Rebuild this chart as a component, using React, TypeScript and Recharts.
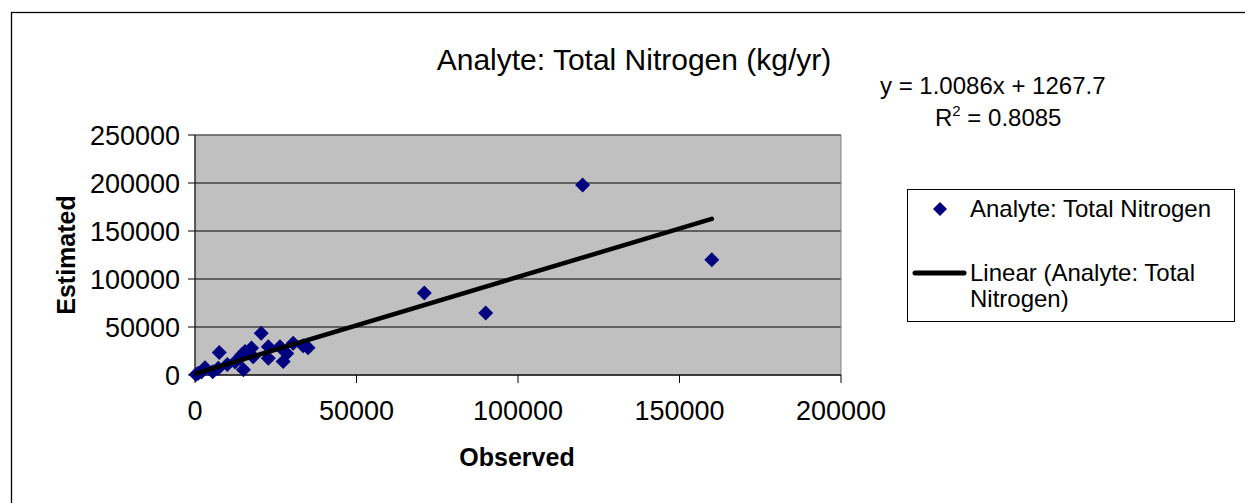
import React from 'react';
import { ScatterChart, Scatter, XAxis, YAxis, CartesianGrid, Legend, Label, ReferenceArea } from 'recharts';

const observed = [300, 1000, 2000, 3100, 5500, 7200, 7500, 10000, 12400, 13900, 14500, 15000, 15500, 17500, 18000, 20500, 22700, 22700, 26300, 27300, 28400, 30400, 33500, 35000, 71000, 90000, 120000, 160000];
const estimated = [500, 1800, 3000, 7500, 3500, 7000, 23500, 11000, 13500, 17500, 21000, 5500, 24500, 28000, 19000, 43500, 29500, 17500, 29500, 14000, 22500, 33000, 30500, 28500, 85500, 64500, 198000, 120000];
const xTicks = [0, 50000, 100000, 150000, 200000];
const yTicks = [0, 50000, 100000, 150000, 200000, 250000];
const slope = 1.0086;
const intercept = 1267.7;
const rSquared = '0.8085';
const chartTitle = 'Analyte: Total Nitrogen (kg/yr)';
const seriesName = 'Analyte: Total Nitrogen';
const trendLines = ['Linear (Analyte: Total', 'Nitrogen)'];
const xTitle = 'Observed';
const yTitle = 'Estimated';

const points = observed.map((x, i) => ({ x, y: estimated[i] }));
const xMin = Math.min(...observed);
const xMax = Math.max(...observed);
const trend = [xMin, xMax].map((x) => ({ x, y: slope * x + intercept }));

const FONT = '"Liberation Sans", Arial, sans-serif';

const Diamond = (props: any) => {
  const { cx, cy } = props;
  if (cx == null || cy == null) return <g />;
  const r = 7.5;
  return <path d={`M${cx},${cy - r}L${cx + r},${cy}L${cx},${cy + r}L${cx - r},${cy}Z`} fill="#000080" />;
};

const NoShape = () => <g />;

const LegendBox = () => (
  <svg width={329} height={134} style={{ display: 'block' }}>
    <rect x={0.5} y={0.5} width={327} height={132} fill="#fff" stroke="#000" strokeWidth={1} />
    <path d="M33,13L40,20L33,27L26,20Z" fill="#000080" />
    <text x={63} y={28} fontSize={24} fontFamily={FONT} fill="#000">{seriesName}</text>
    <line x1={8} y1={84} x2={57} y2={84} stroke="#000" strokeWidth={5} strokeLinecap="round" />
    <text x={63} y={92} fontSize={24} fontFamily={FONT} fill="#000">{trendLines[0]}</text>
    <text x={63} y={118} fontSize={24} fontFamily={FONT} fill="#000">{trendLines[1]}</text>
  </svg>
);

export default function App() {
  return (
    <div style={{ position: 'absolute', left: 0, top: 0, width: 1245, height: 503, overflow: 'hidden', background: '#fff' }}>
      <svg width={1245} height={503} style={{ position: 'absolute', left: 0, top: 0 }}>
        <rect x={11.5} y={12.5} width={1400} height={700} fill="none" stroke="#000" strokeWidth={1.3} />
        <text x={634} y={70} textAnchor="middle" fontSize={30} fontFamily={FONT} fill="#000">{chartTitle}</text>
        <text x={880} y={94} fontSize={24} fontFamily={FONT} fill="#000">{`y = ${slope}x + ${intercept}`}</text>
        <text x={935} y={126} fontSize={24} fontFamily={FONT} fill="#000">
          R<tspan dy={-10} fontSize={15}>2</tspan>
          <tspan dy={10} fontSize={24}>{` = ${rSquared}`}</tspan>
        </text>
      </svg>
      <div style={{ position: 'absolute', left: 0, top: 0 }}>
        <ScatterChart width={1245} height={503} margin={{ top: 135, right: 404, bottom: 0, left: 0 }}>
          <CartesianGrid fill="#C0C0C0" fillOpacity={1} stroke="#000" vertical={false} horizontal={true} />
          <ReferenceArea x1={0} x2={200000} y1={0} y2={250000} fill="none" stroke="#808080" strokeWidth={1} ifOverflow="visible" />
          <XAxis
            type="number"
            dataKey="x"
            domain={[0, 200000]}
            ticks={xTicks}
            height={128}
            tickSize={8}
            tickMargin={18}
            axisLine={{ stroke: '#000' }}
            tickLine={{ stroke: '#000' }}
            tick={{ fill: '#000', fontSize: 27, fontFamily: FONT }}
            interval={0}
          >
            <Label
              content={() => (
                <text x={517} y={466} textAnchor="middle" fontSize={25} fontWeight="bold" fontFamily={FONT} fill="#000">{xTitle}</text>
              )}
            />
          </XAxis>
          <YAxis
            type="number"
            dataKey="y"
            domain={[0, 250000]}
            ticks={yTicks}
            width={195}
            tickSize={7}
            tickMargin={8}
            axisLine={{ stroke: '#000' }}
            tickLine={{ stroke: '#000' }}
            tick={{ fill: '#000', fontSize: 27, fontFamily: FONT }}
            interval={0}
          >
            <Label
              content={() => (
                <text x={75} y={255} transform="rotate(-90, 75, 255)" textAnchor="middle" fontSize={25} fontWeight="bold" fontFamily={FONT} fill="#000">{yTitle}</text>
              )}
            />
          </YAxis>
          <Legend
            layout="vertical"
            align="center"
            verticalAlign="middle"
            width={329}
            height={134}
            wrapperStyle={{ left: 907, top: 189, width: 329, height: 134 }}
            content={() => <LegendBox />}
          />
          <Scatter name={seriesName} data={points} shape={Diamond} isAnimationActive={false} />
          <Scatter
            name={trendLines.join(' ')}
            data={trend}
            shape={NoShape}
            line={{ stroke: '#000', strokeWidth: 4.5, strokeLinecap: 'round' }}
            lineType="joint"
            isAnimationActive={false}
          />
        </ScatterChart>
      </div>
    </div>
  );
}
